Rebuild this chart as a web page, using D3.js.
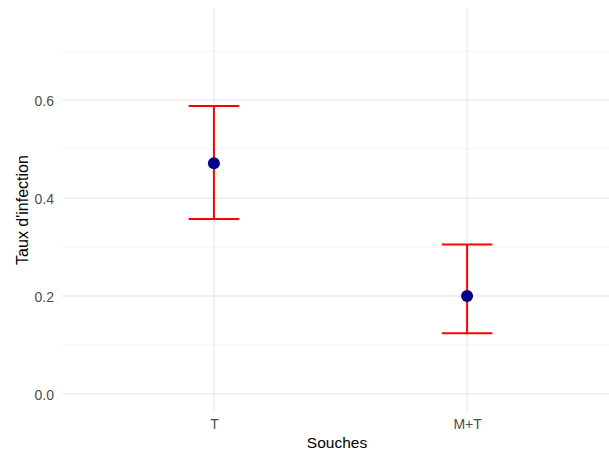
<!DOCTYPE html>
<html><head><meta charset="utf-8">
<script src="https://cdn.jsdelivr.net/npm/d3@7"></script>
<style>
html,body{margin:0;padding:0;background:#fff;}
svg{display:block;font-family:"Liberation Sans",Arial,sans-serif;}
</style></head>
<body><svg id="c" width="609" height="452"></svg>
<script>
const categories = ["T", "M+T"];
const means = [0.471, 0.200];
const lowers = [0.357, 0.124];
const uppers = [0.588, 0.305];
const yMajorTicks = [0.0, 0.2, 0.4, 0.6];
const yMinorTicks = [0.1, 0.3, 0.5, 0.7];
const xTitle = "Souches";
const yTitle = "Taux d'infection";

const svg = d3.select("#c");
const L = 62, R = 619, T = 8, B = 412;

const x = d3.scalePoint().domain(categories).range([L, R]).padding(0.6);
const y = d3.scaleLinear().domain([-0.0367, 0.7878]).range([B, T]);

// minor gridlines
svg.append("g").selectAll("line").data(yMinorTicks).join("line")
  .attr("x1", L).attr("x2", 609)
  .attr("y1", d => y(d)).attr("y2", d => y(d))
  .attr("stroke", "#f3f3f3").attr("stroke-width", 0.8);

// major gridlines
svg.append("g").selectAll("line").data(yMajorTicks).join("line")
  .attr("x1", L).attr("x2", 609)
  .attr("y1", d => y(d)).attr("y2", d => y(d))
  .attr("stroke", "#ebebeb").attr("stroke-width", 1.3);

svg.append("g").selectAll("line").data(categories).join("line")
  .attr("x1", d => x(d)).attr("x2", d => x(d))
  .attr("y1", T).attr("y2", B)
  .attr("stroke", "#ebebeb").attr("stroke-width", 1.3);

// y axis labels
const yAxis = d3.axisLeft(y).tickValues(yMajorTicks).tickFormat(d3.format(".1f")).tickSize(0).tickPadding(0);
const gy = svg.append("g").attr("transform", `translate(${L - 8},0)`).call(yAxis);
gy.select(".domain").remove();
gy.selectAll("text").attr("fill", "#4d4d4d").style("font-size", "14px")
  .style("font-family", "Liberation Sans, Arial, sans-serif").attr("dy", "0.36em").attr("x", 0);

// x axis labels
const xAxis = d3.axisBottom(x).tickSize(0).tickPadding(0);
const gx = svg.append("g").attr("transform", `translate(0,${B + 7.5})`).call(xAxis);
gx.select(".domain").remove();
gx.selectAll("text").attr("fill", "#4d4d4d").style("font-size", "14px")
  .style("font-family", "Liberation Sans, Arial, sans-serif").attr("dy", "0.71em").attr("y", 0);

// error bars
const capHalf = 0.1 * x.step();
const eb = svg.append("g").attr("stroke", "#ff0000").attr("stroke-width", 2);
categories.forEach((c, i) => {
  eb.append("line").attr("x1", x(c)).attr("x2", x(c)).attr("y1", y(lowers[i])).attr("y2", y(uppers[i]));
  eb.append("line").attr("x1", x(c) - capHalf).attr("x2", x(c) + capHalf).attr("y1", y(lowers[i])).attr("y2", y(lowers[i]));
  eb.append("line").attr("x1", x(c) - capHalf).attr("x2", x(c) + capHalf).attr("y1", y(uppers[i])).attr("y2", y(uppers[i]));
});

// points
svg.append("g").selectAll("circle").data(categories).join("circle")
  .attr("cx", d => x(d)).attr("cy", (d, i) => y(means[i])).attr("r", 6)
  .attr("fill", "#00008b");

// titles
svg.append("text").attr("x", 337).attr("y", 447.5).attr("text-anchor", "middle")
  .style("font-size", "15.5px").attr("fill", "#000").text(xTitle);
svg.append("text").attr("transform", `translate(27.5,${(T + B) / 2}) rotate(-90)`)
  .attr("text-anchor", "middle").style("font-size", "16px").attr("fill", "#000").text(yTitle);
</script></body></html>
